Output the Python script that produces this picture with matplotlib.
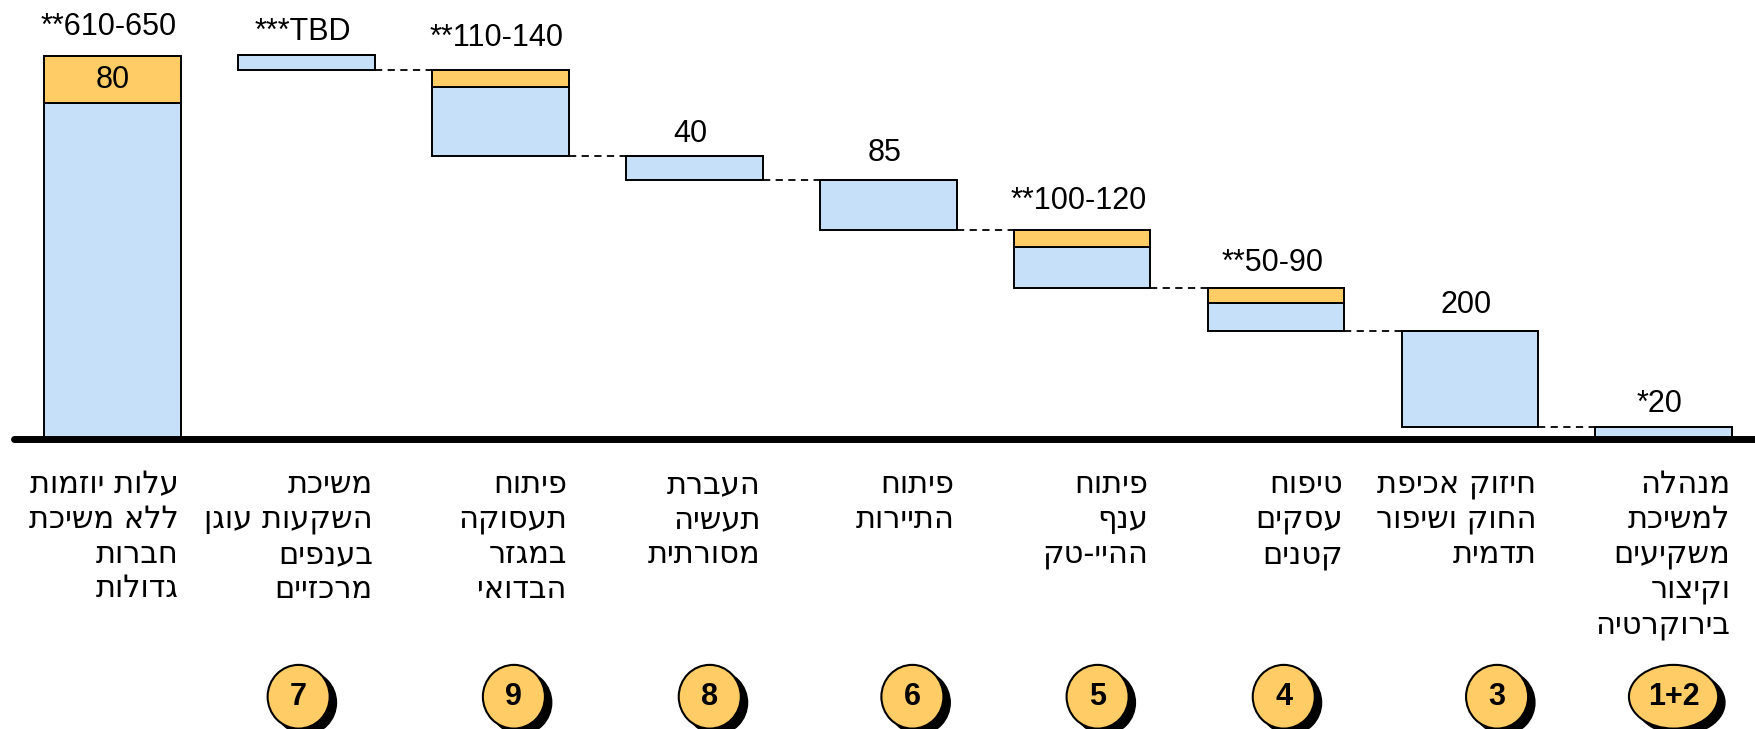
import matplotlib
matplotlib.use("Agg")
import matplotlib.pyplot as plt
from matplotlib.patches import Ellipse
import numpy as np

# Bars from left to right (the chart reads right-to-left)
categories = [
    "עלות יוזמות\nללא משיכת\nחברות\nגדולות",
    "משיכת\nהשקעות עוגן\nבענפים\nמרכזיים",
    "פיתוח\nתעסוקה\nבמגזר\nהבדואי",
    "העברת\nתעשיה\nמסורתית",
    "פיתוח\nהתיירות",
    "פיתוח\nענף\nההיי-טק",
    "טיפוח\nעסקים\nקטנים",
    "חיזוק אכיפת\nהחוק ושיפור\nתדמית",
    "מנהלה\nלמשיכת\nמשקיעים\nוקיצור\nבירוקרטיה",
]
badges = ["", "7", "9", "8", "6", "5", "4", "3", "1+2"]
value_labels = ["**610-650", "***TBD", "**110-140", "40", "85",
                "**100-120", "**50-90", "200", "*20"]

# drawn heights: lower (blue) part and range (orange) part
blue_part = [570, 24, 117, 40, 85, 70, 47, 163, 21]
orange_part = [80, 0, 30, 0, 0, 28, 26, 0, 0]
total_label = "80"

BLUE = "#C7E0FA"
ORANGE = "#FFCC66"
NUM_FONT = "Liberation Sans"
HEB_FONT = "DejaVu Sans"

n = len(categories)
x = np.arange(n)
width = 0.705

# waterfall bottoms: steps stack up from the rightmost bar
step_tot = [b + o for b, o in zip(blue_part, orange_part)]
bottoms = [0.0] * n
level = 0.0
for i in range(n - 1, 0, -1):
    bottoms[i] = level
    level += step_tot[i]
bottoms[0] = 0.0

fig = plt.figure(figsize=(17.55, 7.29), dpi=100)
ax = fig.add_axes([0, 0, 1, 1])
ax.set_xlim(-0.58, 8.47)
ax.set_ylim(-490.7, 744.9)
ax.axis("off")

ax.bar(x, blue_part, width, bottom=bottoms, color=BLUE, edgecolor="black",
       linewidth=1.4, zorder=2)
ob = [b + bl for b, bl in zip(bottoms, blue_part)]
ax.bar(x, orange_part, width, bottom=ob, color=ORANGE, edgecolor="black",
       linewidth=1.4, zorder=2)

# dashed connectors
for i in range(1, n - 1):
    y = bottoms[i]
    ax.plot([x[i] + width / 2, x[i + 1] - width / 2], [y, y], ls=(0, (4, 3)),
            color="black", lw=1.3, zorder=1)

# baseline
ax.plot([-0.51, 8.47], [0, 0], color="black", lw=5, solid_capstyle="round", zorder=3)

# value labels on top (gap above each bar varies a little in the original)
label_gap = [24, 14, 28, 13, 20, 24, 16, 18, 14]
for i in range(n):
    top = bottoms[i] + step_tot[i]
    ax.text(x[i] - 0.02, top + label_gap[i], value_labels[i], ha="center",
            va="bottom", fontsize=22, family=NUM_FONT)
ax.text(x[0], ob[0] + orange_part[0] / 2, total_label, ha="center", va="center",
        fontsize=22, family=NUM_FONT)

# category labels (reverse Hebrew lines for display)
for i, cat in enumerate(categories):
    vis = "\n".join(line[::-1] for line in cat.split("\n"))
    ax.text(x[i] + width / 2 - 0.01, -52, vis, ha="right", va="top",
            multialignment="right", fontsize=22, family=HEB_FONT, linespacing=1.25)

# numbered badges
badge_dx = [0, -0.04, 0.07, 0.08, 0.125, 0.08, 0.04, 0.14, 0.05]
for i, b in enumerate(badges):
    if not b:
        continue
    cx = x[i] + badge_dx[i]
    cy = -436
    w = 0.46 if len(b) > 1 else 0.32
    h = 108
    ax.add_patch(Ellipse((cx + 0.035, cy - 10), w, h, facecolor="black",
                         edgecolor="black", zorder=4))
    ax.add_patch(Ellipse((cx, cy), w, h, facecolor=ORANGE, edgecolor="black",
                         lw=1.5, zorder=5))
    ax.text(cx, cy, b, ha="center", va="center", fontsize=22, fontweight="bold",
            family=NUM_FONT, zorder=6)

fig.savefig("out.png", dpi=100)
